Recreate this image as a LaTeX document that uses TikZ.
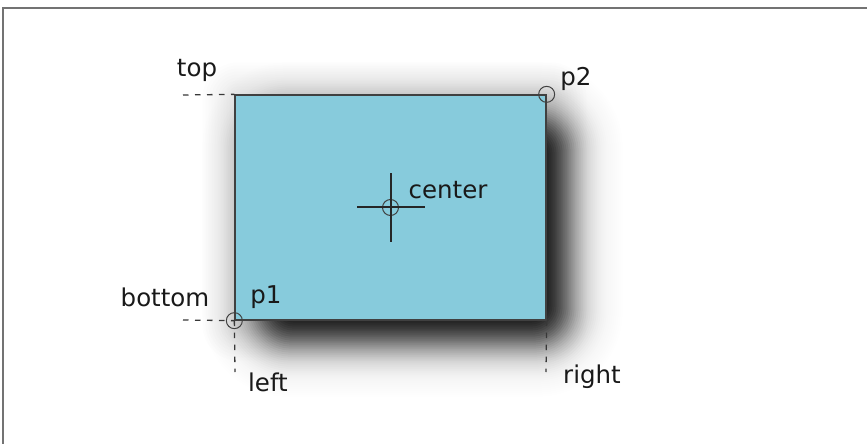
\documentclass[tikz,border=0pt]{standalone}
\usepackage{fontspec}
\setmainfont{DejaVu Sans}
\usetikzlibrary{backgrounds}
\definecolor{boxblue}{HTML}{87CBDC}
\tikzset{
  lbl/.style={font=\fontsize{24.5}{28}\selectfont, text=black!90, inner sep=0pt},
  guide/.style={dash pattern=on 5.5pt off 6.5pt, draw=black!78, line width=1.3pt},
  mark circle/.style={circle, draw=black!75, line width=1pt, minimum size=16pt, inner sep=0pt},
  boxstyle/.style={draw=black!75, line width=1.3pt, fill=boxblue, minimum width=311pt, minimum height=225pt, inner sep=0pt},
}
\begin{document}
\begin{tikzpicture}[x=1pt,y=-1pt]
\useasboundingbox (0,0) rectangle (867,444);
\draw[black!55, line width=1.5pt] (3,444) -- (3,8) -- (867,8);
% rectangle
\node[boxstyle] (box) at (390.5,207.5) {};
% soft shadow (gaussian-like, offset 22, sigma 21)
\begin{scope}[on background layer]
  \foreach \e in {6,9,...,36} {
    \fill[black, opacity=0.007, rounded corners=\e pt]
      ([shift={(4-\e,4-\e)}]box.north west) rectangle ([shift={(4+\e,4+\e)}]box.south east);
  }
  \foreach \j in {1,...,64} {
    \pgfmathsetmacro\ep{64-(\j-1)*2}
    \pgfmathsetmacro\ee{64-\j*2}
    \pgfmathsetmacro\a{1-(1+exp(-1.702*\ep/21))/(1+exp(-1.702*\ee/21))}
    \pgfmathsetmacro\rc{max(0.5,(\ee+40)*0.9)}
    \fill[black, opacity=\a, rounded corners=\rc pt]
      ([shift={(22-\ee,22-\ee)}]box.north west) rectangle ([shift={(22+\ee,22+\ee)}]box.south east);
  }
\end{scope}
% guides
\coordinate (topend) at (183,95);
\coordinate (botend) at (183,320);
\coordinate (leftend) at (235,372);
\coordinate (rightend) at (546,372);
\draw[guide] (topend) -- (box.north west);
\draw[guide] (botend) -- (box.south west);
\draw[guide] (box.south west) -- (leftend);
\draw[guide] (box.south east) -- (rightend);
% markers
\node[mark circle] (p1c) at (box.south west) {};
\node[mark circle] (p2c) at (box.north east) {};
\node[mark circle] (cc) at (box.center) {};
\coordinate (chl) at (357,207);
\coordinate (chr) at (425,207);
\coordinate (cht) at (391,173);
\coordinate (chb) at (391,242);
\draw[black!85, line width=1.1pt] (chl) -- (chr);
\draw[black!85, line width=1.1pt] (cht) -- (chb);
% labels
\node[lbl] (ltop) at (197,70) {top};
\node[lbl] (lp2) at (576,79) {p2};
\node[lbl] (lcenter) at (448,190) {center};
\node[lbl] (lbottom) at (165,297) {bottom};
\node[lbl] (lp1) at (266,297) {p1};
\node[lbl] (lleft) at (268,382) {left};
\node[lbl] (lright) at (592,377) {right};
\end{tikzpicture}
\end{document}
